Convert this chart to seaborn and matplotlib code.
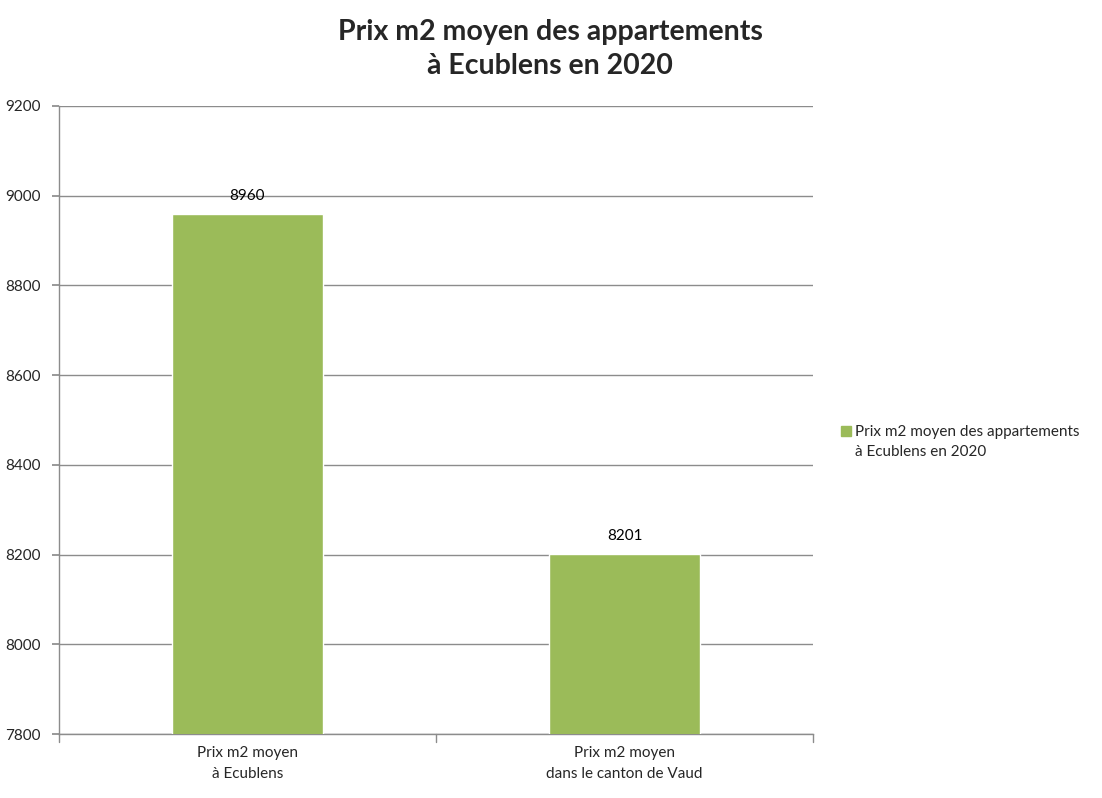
import matplotlib
matplotlib.use("Agg")
import matplotlib.pyplot as plt
import matplotlib.patches as mpatches
import seaborn as sns
import pandas as pd

categories = ["Prix m2 moyen\nà Ecublens", "Prix m2 moyen\ndans le canton de Vaud"]
values = [8960, 8201]
series_name = "Prix m2 moyen des appartements\nà Ecublens en 2020"
yticks = [7800, 8000, 8200, 8400, 8600, 8800, 9000, 9200]

sns.set_theme(style="white")
plt.rcParams['font.family'] = ['Lato', 'DejaVu Sans']

df = pd.DataFrame({"cat": categories, "val": values})

W, H = 1102, 798
fig = plt.figure(figsize=(W / 100, H / 100), dpi=100)
ax = fig.add_axes([59 / W, 1 - 734 / H, (813 - 59) / W, (734 - 106) / H])

green = "#9BBB59"
sns.barplot(data=df, x="cat", y="val", color=green, width=0.4, ax=ax,
            saturation=1, zorder=3)

ax.set_ylim(7800, 9200)
ax.set_xlim(-0.5, 1.5)
ax.set_yticks(yticks)
ax.set_yticklabels([str(t) for t in yticks], fontsize=11)
ax.set_xticks([0, 1])
ax.set_xticklabels(categories, fontsize=11, linespacing=1.55)
ax.set_xlabel("")
ax.set_ylabel("")

ax.grid(axis="y", color="#8c8c8c", linewidth=1, zorder=0)
for s in ["top", "right"]:
    ax.spines[s].set_visible(False)
for s in ["left", "bottom"]:
    ax.spines[s].set_color("#8c8c8c")
    ax.spines[s].set_linewidth(1)

ax.tick_params(axis="y", length=5, color="#8c8c8c", pad=8, left=True)
ax.tick_params(axis="x", length=0, pad=9)
# category boundary ticks on x axis
for xb in [-0.5, 0.5, 1.5]:
    ax.plot([xb, xb], [0, -0.012], transform=ax.get_xaxis_transform(),
            color="#8c8c8c", linewidth=1, clip_on=False)

for i, v in enumerate(values):
    ax.annotate(str(v), (i, v), xytext=(0, 8), textcoords="offset points",
                ha="center", va="bottom", fontsize=11, color="black")

fig.text(550 / W, 1 - 49 / H, "Prix m2 moyen des appartements\nà Ecublens en 2020",
         ha="center", va="center", fontsize=20.5, fontweight="bold", linespacing=1.35)

# legend: square aligned with the first line of the label
fig.patches.append(mpatches.Rectangle((841 / W, 1 - 436 / H), 10 / W, 10 / H,
                                      transform=fig.transFigure, color=green))
fig.text(855 / W, 1 - 442 / H, series_name, ha="left", va="center",
         fontsize=11, linespacing=1.6)

fig.savefig("out.png", dpi=100)
